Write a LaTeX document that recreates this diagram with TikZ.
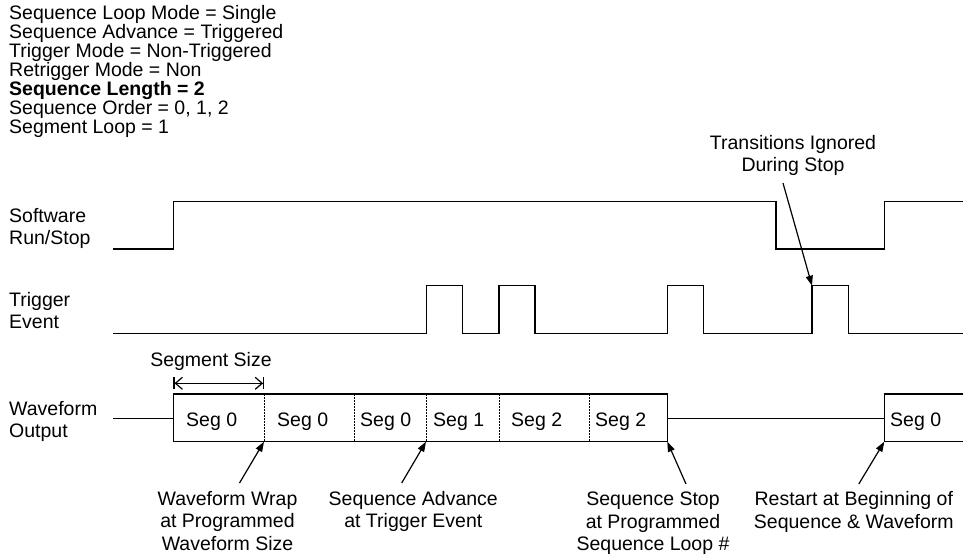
\documentclass[tikz,border=0pt]{standalone}
\usepackage{fontspec}
\setmainfont{Liberation Sans}
\usetikzlibrary{arrows.meta,positioning,calc}
\definecolor{WaveInk}{HTML}{000000}
\newcommand{\diafont}{\fontsize{19.5}{22.5}\selectfont}
\newcommand{\hdrfont}{\fontsize{19.5}{19}\selectfont}

\begin{document}
\begin{tikzpicture}[x=1pt, y=-1pt, line join=miter]
  \useasboundingbox (0,0) rectangle (963,559);

  %% Sequencer settings
  \node[anchor=north west, align=left, inner sep=0, font=\hdrfont] (settings) at (9,5.5)
    {Sequence Loop Mode = Single\\
     Sequence Advance = Triggered\\
     Trigger Mode = Non-Triggered\\
     Retrigger Mode = Non\\
     \textbf{Sequence Length = 2}\\
     Sequence Order = 0, 1, 2\\
     Segment Loop = 1};

  %% Signal names
  \node[anchor=north west, align=left, inner sep=0, font=\diafont] (runlbl) at (9,208) {Software\\Run/Stop};
  \node[anchor=north west, align=left, inner sep=0, font=\diafont] (triglbl) at (9,292) {Trigger\\Event};
  \node[anchor=north west, align=left, inner sep=0, font=\diafont] (wavelbl) at (9,401) {Waveform\\Output};

  %% Software Run/Stop
  \draw[WaveInk, line width=1.4pt]
    (113,249) -- (173.3,249) -- (173.3,201.5) -- (776,201.5) -- (776,249)
    -- (884.3,249) -- (884.3,201.5) -- (963,201.5);

  %% Trigger Event
  \draw[WaveInk, line width=1.4pt]
    (113,333.7) -- (426.7,333.7) -- (426.7,285.7) -- (462.7,285.7) -- (462.7,333.7)
    -- (499,333.7) -- (499,285.7) -- (535,285.7) -- (535,333.7)
    -- (667.7,333.7) -- (667.7,285.7) -- (703.7,285.7) -- (703.7,333.7)
    -- (812,333.7) -- (812,285.7) -- (848.7,285.7) -- (848.7,333.7) -- (963,333.7);

  %% Waveform Output
  \draw[WaveInk, line width=1.4pt] (113,418.5) -- (173.3,418.5);
  \draw[WaveInk, line width=1.4pt] (173.3,394) rectangle (667.3,441.7);
  \draw[WaveInk, line width=1.4pt] (667.3,418.5) -- (884.3,418.5);
  \draw[WaveInk, line width=1.4pt] (963,394) -- (884.3,394) -- (884.3,441.7) -- (963,441.7);
  \foreach \x in {264,354.3,426,499,589.3} {%
    \draw[WaveInk, line width=1pt, dash pattern=on 1.5pt off 1.5pt] (\x,394) -- (\x,441.7);
  }
  \foreach \x/\s [count=\i] in {186/0, 277/0, 360/0, 433/1, 511/2, 595/2, 890/0} {%
    \node[anchor=base west, inner sep=0, font=\diafont] (seg\i) at (\x,426) {Seg \s};
  }

  %% Segment size
  \node[anchor=base, inner sep=0, font=\diafont] (segsize) at (211,366) {Segment Size};
  \coordinate (sizeL) at (173.3,383.3);
  \coordinate (sizeR) at (264.3,383.3);
  \draw[WaveInk, line width=1.2pt,
        {Bar[width=12pt]Straight Barb[length=7pt,width=12pt]}-{Straight Barb[length=7pt,width=12pt]Bar[width=12pt]}]
    (sizeL) -- (sizeR);

  %% Callout points
  \coordinate (wrapPt) at (264,441.7);
  \coordinate (advPt) at (426,441.7);
  \coordinate (stopPt) at (667.3,441.7);
  \coordinate (restartPt) at (884.3,441.7);
  \coordinate (ignorePt) at (812,285.7);

  %% Callouts
  \node[anchor=north, align=center, inner sep=0, font=\diafont] (ignored) at (793,135)
    {Transitions Ignored\\During Stop};
  \node[anchor=north, align=center, inner sep=0, font=\diafont] (wrap) at (227.5,491)
    {Waveform Wrap\\at Programmed\\Waveform Size};
  \node[anchor=north, align=center, inner sep=0, font=\diafont] (adv) at (413.3,491)
    {Sequence Advance\\at Trigger Event};
  \node[anchor=north, align=center, inner sep=0, font=\diafont] (stop) at (653,492)
    {Sequence Stop\\at Programmed\\Sequence Loop \#};
  \node[anchor=north, align=center, inner sep=0, font=\diafont] (restart) at (853.8,491.5)
    {Restart at Beginning of\\Sequence \& Waveform};

  \draw[WaveInk, line width=1.2pt, -{Triangle[length=10pt,width=7pt]}]
    ([xshift=-10pt,yshift=-7pt]ignored.south) -- (ignorePt);
  \draw[WaveInk, line width=1.2pt, -{Triangle[length=10pt,width=7pt]}]
    ([xshift=12pt,yshift=8pt]wrap.north) -- (wrapPt);
  \draw[WaveInk, line width=1.2pt, -{Triangle[length=10pt,width=7pt]}]
    ([xshift=-11.6pt,yshift=8pt]adv.north) -- (advPt);
  \draw[WaveInk, line width=1.2pt, -{Triangle[length=10pt,width=7pt]}]
    ([xshift=33pt,yshift=8pt]stop.north) -- (stopPt);
  \draw[WaveInk, line width=1.2pt, -{Triangle[length=10pt,width=7pt]}]
    ([xshift=5pt,yshift=7.5pt]restart.north) -- (restartPt);
\end{tikzpicture}
\end{document}
